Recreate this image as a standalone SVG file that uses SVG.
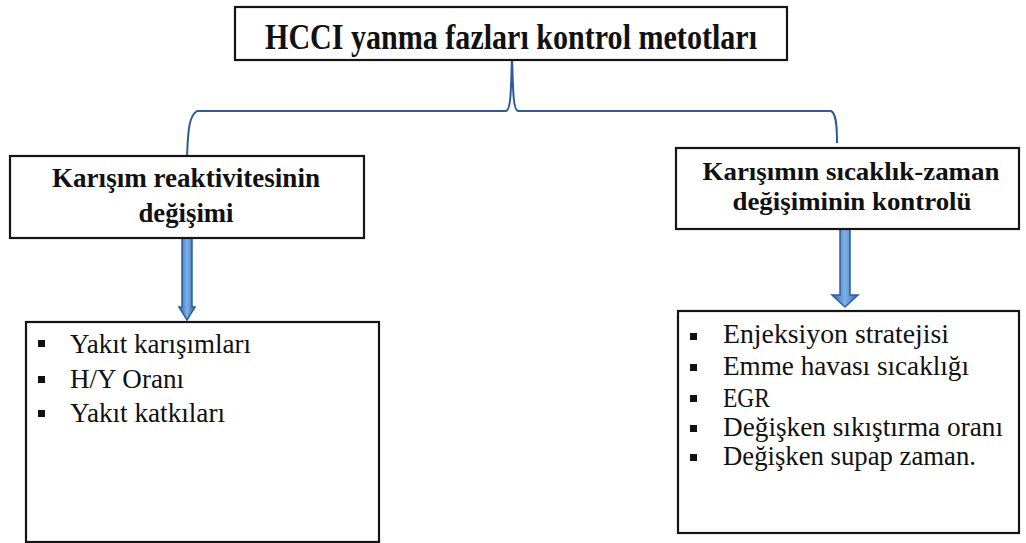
<svg xmlns="http://www.w3.org/2000/svg" width="1026" height="543" viewBox="0 0 1026 543">
<defs>
<linearGradient id="shaft" x1="0" y1="0" x2="1" y2="0">
<stop offset="0" stop-color="#2f65ad"/>
<stop offset="0.5" stop-color="#7fb0e6"/>
<stop offset="1" stop-color="#2f65ad"/>
</linearGradient>
<style>
.box{fill:#fff;stroke:#151515;stroke-width:2.2}
.h{font-family:"Liberation Serif","Times New Roman",serif;font-weight:bold;fill:#111;text-anchor:middle}
.t{font-family:"Liberation Serif","Times New Roman",serif;fill:#111;font-size:27px}
.brace{fill:none;stroke:#2f5b9a;stroke-width:2}
.arrow{fill:url(#shaft);stroke:#2d5f9e;stroke-width:1.5}
</style>
</defs>
<rect width="1026" height="543" fill="#fff"/>
<g id="connectors">
<path class="brace" d="M187,157 C188,130 189,116 197,111 L506,111 C511,110 511,90 512,54 C513,90 513,110 518,111 L831,111 C836,113 837,125 837,143"/>
<path class="arrow" d="M182,238 L192,238 L192,307 L195,307 L187,320 L179,307 L182,307 Z"/>
<path class="arrow" d="M840,229 L850,229 L850,295 L858,295 L845,307 L832,295 L840,295 Z"/>
</g>
<g id="node-title">
<rect class="box" x="235" y="7" width="552" height="53"/>
<text class="h" x="511" y="49" font-size="36" textLength="492" lengthAdjust="spacingAndGlyphs">HCCI yanma fazları kontrol metotları</text>
</g>
<g id="node-reactivity">
<rect class="box" x="10" y="156" width="354" height="82"/>
<text class="h" x="186" y="187" font-size="27" textLength="268" lengthAdjust="spacingAndGlyphs">Karışım reaktivitesinin</text>
<text class="h" x="186" y="222" font-size="27" textLength="95" lengthAdjust="spacingAndGlyphs">değişimi</text>
</g>
<g id="node-temperature">
<rect class="box" x="676" y="148" width="343" height="81"/>
<text class="h" x="851" y="180" font-size="26" textLength="297" lengthAdjust="spacingAndGlyphs">Karışımın sıcaklık-zaman</text>
<text class="h" x="852" y="210" font-size="26" textLength="239" lengthAdjust="spacingAndGlyphs">değişiminin kontrolü</text>
</g>
<g id="node-list-left">
<rect class="box" x="26" y="322" width="353" height="220"/>
<g fill="#111"><rect x="38" y="340" width="7" height="7"/><rect x="38" y="376" width="7" height="7"/><rect x="38" y="410" width="7" height="7"/></g>
<text class="t" x="70" y="353" textLength="181" lengthAdjust="spacingAndGlyphs">Yakıt karışımları</text>
<text class="t" x="70" y="388" textLength="114" lengthAdjust="spacingAndGlyphs">H/Y Oranı</text>
<text class="t" x="70" y="422" textLength="155" lengthAdjust="spacingAndGlyphs">Yakıt katkıları</text>
</g>
<g id="node-list-right">
<rect class="box" x="678" y="311" width="341" height="222"/>
<g fill="#111"><rect x="690" y="333" width="7" height="7"/><rect x="690" y="364" width="7" height="7"/><rect x="690" y="395" width="7" height="7"/><rect x="690" y="425" width="7" height="7"/><rect x="690" y="454" width="7" height="7"/></g>
<text class="t" x="723" y="343" textLength="226" lengthAdjust="spacingAndGlyphs">Enjeksiyon stratejisi</text>
<text class="t" x="723" y="375" textLength="246" lengthAdjust="spacingAndGlyphs">Emme havası sıcaklığı</text>
<text class="t" x="723" y="407" textLength="47" lengthAdjust="spacingAndGlyphs">EGR</text>
<text class="t" x="723" y="436" textLength="280" lengthAdjust="spacingAndGlyphs">Değişken sıkıştırma oranı</text>
<text class="t" x="723" y="465" textLength="253" lengthAdjust="spacingAndGlyphs">Değişken supap zaman.</text>
</g>
</svg>
